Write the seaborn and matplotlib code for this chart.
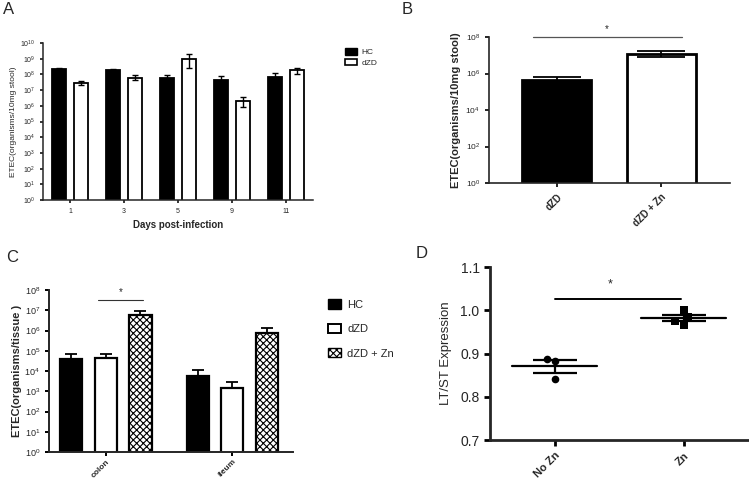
import numpy as np
import pandas as pd
import matplotlib
matplotlib.use('Agg')
import matplotlib.pyplot as plt
import seaborn as sns
from matplotlib.patches import Patch
from matplotlib.ticker import FixedLocator, LogFormatterMathtext, NullLocator

# ---- data ----
# A: stool ETEC by day
days = ['1', '3', '5', '9', '11']
a_hc = [2.3e8, 1.8e8, 6.3e7, 4.2e7, 6.9e7]
a_hc_hi = [2.6e8, 2.2e8, 9.3e7, 7.9e7, 1.2e8]
a_hc_lo = [2.0e8, 1.5e8, 4.3e7, 2.0e7, 4.7e7]
a_dzd = [2.9e7, 6.3e7, 1.0e9, 1.9e6, 1.8e8]
a_dzd_hi = [3.8e7, 8.7e7, 1.9e9, 3.4e6, 2.7e8]
a_dzd_lo = [2.2e7, 4.7e7, 2.6e8, 8.5e5, 1.0e8]

# B: stool ETEC, dZD vs dZD + Zn
b_groups = ['dZD', 'dZD + Zn']
b_vals = [4.6e5, 1.2e7]
b_hi = [6.2e5, 1.7e7]
b_lo = [3.4e5, 7.8e6]

# C: tissue ETEC
tissues = ['colon', 'ileum']
c_groups = ['HC', 'dZD', 'dZD + Zn']
c_hc = [3.7e4, 5.6e3]
c_dzd = [4.5e4, 1.5e3]
c_zn = [6.0e6, 7.8e5]
c_hc_hi = [6.8e4, 1.1e4]
c_dzd_hi = [6.8e4, 2.9e3]
c_zn_hi = [9.5e6, 1.27e6]

# D: LT/ST expression
d_nozn = [0.887, 0.883, 0.840]
d_zn = [0.984, 1.001, 0.967, 0.974]

sns.set_style('ticks')
plt.rcParams['font.family'] = ['Liberation Sans', 'DejaVu Sans']
plt.rcParams['mathtext.default'] = 'regular'
plt.rcParams['hatch.linewidth'] = 0.8

W, H = 749, 482
fig = plt.figure(figsize=(W / 100, H / 100), dpi=100)


def box(l, t, r, b):
    return [l / W, 1 - b / H, (r - l) / W, (b - t) / H]


def style_axes(ax, lw):
    sns.despine(ax=ax)
    for s in ['left', 'bottom']:
        ax.spines[s].set_linewidth(lw)
    ax.tick_params(width=lw, length=3, color='black')


def add_err(ax, xs, vals, lo, hi, capsize, lw=1.3):
    vals = np.array(vals)
    yerr = [vals - np.array(lo), np.array(hi) - vals]
    ax.errorbar(xs, vals, yerr=yerr, fmt='none', ecolor='black',
                elinewidth=lw, capsize=capsize, capthick=lw, zorder=5)


def centers(container):
    return [b.get_x() + b.get_width() / 2 for b in container]


def rotate_bold(ax):
    for t in ax.get_xticklabels():
        t.set_rotation(45)
        t.set_ha('right')
        t.set_rotation_mode('anchor')
        t.set_fontweight('bold')


# ---------------- A ----------------
axA = fig.add_axes(box(43, 43, 313, 200))
dfa = pd.DataFrame({'day': days * 2,
                    'group': ['HC'] * 5 + ['dZD'] * 5,
                    'value': a_hc + a_dzd})
sns.barplot(data=dfa, x='day', y='value', hue='group', hue_order=['HC', 'dZD'],
            palette={'HC': 'black', 'dZD': 'white'}, saturation=1,
            width=0.8, gap=0.35, edgecolor='black', linewidth=1.3,
            errorbar=None, legend=False, ax=axA)
axA.set_yscale('log')
axA.set_ylim(1, 1e10)
axA.set_xlim(-0.5, 4.5)
add_err(axA, centers(axA.containers[0]), a_hc, a_hc_lo, a_hc_hi, 2.5, 1.0)
add_err(axA, centers(axA.containers[1]), a_dzd, a_dzd_lo, a_dzd_hi, 2.5, 1.0)
axA.yaxis.set_major_locator(FixedLocator([10.0 ** k for k in range(11)]))
axA.yaxis.set_major_formatter(LogFormatterMathtext())
axA.yaxis.set_minor_locator(NullLocator())
style_axes(axA, 1.1)
axA.tick_params(labelsize=5, length=2)
axA.set_xlabel('Days post-infection', fontsize=7, fontweight='bold', labelpad=4)
axA.set_ylabel('ETEC(organisms/10mg stool)', fontsize=6, labelpad=2)
axA.legend(handles=[Patch(facecolor='black', edgecolor='black', label='HC'),
                    Patch(facecolor='white', edgecolor='black', linewidth=1.2, label='dZD')],
           loc='upper left', bbox_to_anchor=(342 / W, 1 - 45 / H),
           bbox_transform=fig.transFigure, frameon=False, fontsize=6,
           handlelength=1.4, handleheight=0.8, handletextpad=0.5,
           labelspacing=0.3, borderaxespad=0)

# ---------------- B ----------------
axB = fig.add_axes(box(489, 37, 730, 183))
dfb = pd.DataFrame({'group': b_groups, 'value': b_vals})
sns.barplot(data=dfb, x='group', y='value', hue='group',
            palette={'dZD': 'black', 'dZD + Zn': 'white'}, saturation=1,
            width=0.66, edgecolor='black', linewidth=2.0,
            errorbar=None, legend=False, ax=axB)
axB.set_yscale('log')
axB.set_ylim(1, 1e8)
axB.set_xlim(-0.65, 1.66)
xb = [c for cont in axB.containers for c in centers(cont)]
add_err(axB, xb, b_vals, b_lo, b_hi, 17, 1.3)
axB.plot([-0.23, 1.2], [1e8, 1e8], color='#555555', lw=0.9, clip_on=False)
axB.text(0.48, 1.5e8, '*', ha='center', va='bottom', fontsize=7)
axB.yaxis.set_major_locator(FixedLocator([10.0 ** k for k in range(0, 9, 2)]))
axB.yaxis.set_major_formatter(LogFormatterMathtext())
axB.yaxis.set_minor_locator(NullLocator())
style_axes(axB, 1.2)
axB.tick_params(axis='y', labelsize=6, length=3)
axB.tick_params(axis='x', labelsize=7, length=3)
rotate_bold(axB)
axB.set_xlabel('')
axB.set_ylabel('ETEC(organisms/10mg stool)', fontsize=8, fontweight='bold', labelpad=3)

# ---------------- C ----------------
axC = fig.add_axes(box(49, 290, 293, 452))
dfc = pd.DataFrame({'tissue': tissues * 3,
                    'group': [g for g in c_groups for _ in tissues],
                    'value': c_hc + c_dzd + c_zn})
sns.barplot(data=dfc, x='tissue', y='value', hue='group', hue_order=c_groups,
            palette={'HC': 'black', 'dZD': 'white', 'dZD + Zn': 'white'},
            saturation=1, width=0.82, gap=0.36, edgecolor='black', linewidth=1.6,
            errorbar=None, legend=False, ax=axC)
for bar in axC.containers[2]:
    bar.set_hatch('xxxxx')
axC.set_yscale('log')
axC.set_ylim(1, 1e8)
axC.set_xlim(-0.45, 1.48)
for cont, vals, hi in zip(axC.containers, [c_hc, c_dzd, c_zn], [c_hc_hi, c_dzd_hi, c_zn_hi]):
    add_err(axC, centers(cont), vals, vals, hi, 4.5, 1.3)
axC.plot([-0.06, 0.29], [3.2e7, 3.2e7], color='#333333', lw=0.8)
axC.text(0.12, 4.5e7, '*', ha='center', va='bottom', fontsize=7)
axC.yaxis.set_major_locator(FixedLocator([10.0 ** k for k in range(9)]))
axC.yaxis.set_major_formatter(LogFormatterMathtext())
axC.yaxis.set_minor_locator(NullLocator())
style_axes(axC, 1.4)
axC.tick_params(axis='y', labelsize=6.5, length=3)
axC.tick_params(axis='x', labelsize=6, length=3, pad=1.5)
rotate_bold(axC)
axC.set_xlabel('')
axC.set_ylabel('ETEC(organisms/tissue )', fontsize=8, fontweight='bold', labelpad=2)
axC.legend(handles=[Patch(facecolor='black', edgecolor='black', label='HC'),
                    Patch(facecolor='white', edgecolor='black', linewidth=1.4, label='dZD'),
                    Patch(facecolor='white', edgecolor='black', hatch='xxxxx', label='dZD + Zn')],
           loc='upper left', bbox_to_anchor=(324 / W, 1 - 295 / H),
           bbox_transform=fig.transFigure, frameon=False, fontsize=8,
           handlelength=1.1, handleheight=0.9, handletextpad=0.6,
           labelspacing=1.25, borderaxespad=0)

# ---------------- D ----------------
axD = fig.add_axes(box(490, 267, 748, 440))
dfd = pd.DataFrame({'group': ['No Zn'] * len(d_nozn) + ['Zn'] * len(d_zn),
                    'value': d_nozn + d_zn})
order = ['No Zn', 'Zn']
sns.swarmplot(data=dfd[dfd.group == 'No Zn'], x='group', y='value', order=order,
              color='black', marker='o', size=5.5, ax=axD)
sns.swarmplot(data=dfd[dfd.group == 'Zn'], x='group', y='value', order=order,
              color='black', marker='s', size=6.0, ax=axD)
stats = dfd.groupby('group')['value'].agg(['mean', 'std', 'count']).loc[order]
sem = stats['std'] / np.sqrt(stats['count'])
for i, g in enumerate(order):
    axD.plot([i - 0.333, i + 0.333], [stats.loc[g, 'mean']] * 2, color='black', lw=1.6, zorder=4)
axD.errorbar(range(2), stats['mean'], yerr=sem, fmt='none', ecolor='black',
             elinewidth=1.6, capsize=15.5, capthick=1.6, zorder=4)
axD.plot([0, 0.98], [1.025, 1.025], color='black', lw=1.4)
axD.text(0.43, 1.045, '*', ha='center', va='bottom', fontsize=9)
axD.set_xlim(-0.5, 1.5)
axD.set_ylim(0.7, 1.1)
axD.set_yticks([0.7, 0.8, 0.9, 1.0, 1.1])
axD.set_yticklabels(['0.7', '0.8', '0.9', '1.0', '1.1'])
style_axes(axD, 2.0)
axD.tick_params(axis='y', labelsize=10, length=4)
axD.tick_params(axis='x', labelsize=8, length=4)
rotate_bold(axD)
axD.set_xlabel('')
axD.set_ylabel('LT/ST Expression', fontsize=9.5, labelpad=6)

# panel letters
for letter, x, y in [('A', 3, 10), ('B', 402, 10), ('C', 6, 258), ('D', 416, 253)]:
    fig.text(x / W, 1 - y / H, letter, fontsize=12, va='center', ha='left')

fig.savefig('out.png', dpi=100)
